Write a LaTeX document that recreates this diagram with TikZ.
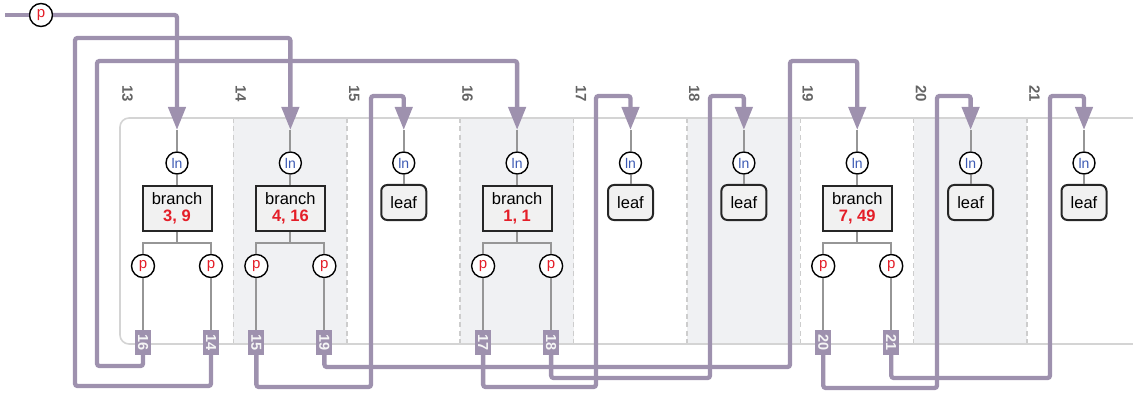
\documentclass[tikz,border=0pt]{standalone}
\usepackage{fontspec}
\setmainfont{Liberation Sans}
\usetikzlibrary{arrows.meta}
\definecolor{wirec}{RGB}{158,145,174}
\definecolor{panelc}{RGB}{212,212,212}
\definecolor{shadec}{RGB}{240,241,243}
\definecolor{dashcol}{RGB}{205,205,205}
\definecolor{thinc}{RGB}{150,150,150}
\definecolor{boxfill}{RGB}{241,241,241}
\definecolor{redc}{RGB}{228,30,40}
\definecolor{bluec}{RGB}{60,90,180}
\definecolor{labc}{RGB}{100,100,100}
\definecolor{tagtext}{RGB}{245,245,245}
\newcommand\fsz[2]{\fontsize{#1}{#2}\selectfont}
\begin{document}
\begin{tikzpicture}[x=1pt,y=-1pt,
  wire/.style={line width=4.3pt, draw=wirec, rounded corners=2.5pt},
  arr/.style={wire, -{Triangle[length=23pt,width=17pt]}},
  thin/.style={draw=thinc, line width=2pt},
  lnc/.style={circle, draw=black, line width=1.4pt, fill=white, minimum size=22pt, inner sep=0pt, text=bluec, font=\fsz{14}{16}},
  pc/.style={circle, draw=black, line width=1.4pt, fill=white, minimum size=23pt, inner sep=0pt, text=redc, font=\fsz{15}{16}},
  branchbox/.style={rectangle, draw=black!85, line width=2pt, fill=boxfill, minimum width=69pt, minimum height=45pt, inner sep=0pt, align=center, font=\fsz{16.5}{18}},
  leafbox/.style={rectangle, rounded corners=6pt, draw=black!85, line width=2pt, fill=boxfill, minimum width=45pt, minimum height=35pt, inner sep=0pt, font=\fsz{16.5}{18}},
  tagbox/.style={rectangle, fill=wirec, minimum width=16pt, minimum height=25pt, inner sep=0pt, text=tagtext, font=\bfseries\fsz{14.5}{16}},
  collab/.style={inner sep=0pt, text=labc, font=\bfseries\fsz{15}{16}},
  panel/.style={draw=panelc, line width=1.6pt, rounded corners=9pt},
  dashl/.style={draw=dashcol, line width=1.5pt, dash pattern=on 5pt off 3.5pt}
]
\useasboundingbox (0,0) rectangle (1133,393);
\clip (0,0) rectangle (1133,393);
% panel
\foreach \c in {1,3,5,7} \fill[shadec] ({120+113.375*\c},118) rectangle ({120+113.375*(\c+1)},344);
\foreach \c in {1,...,8} \draw[dashl] ({120+113.375*\c},118) -- ({120+113.375*\c},344);
\draw[panel] (120,118) rectangle (1170,344);
% columns
\foreach \c/\n in {0/13,1/14,2/15,3/16,4/17,5/18,6/19,7/20,8/21}{
  \node[collab] (lab\n) at ({127.5+113.375*\c},94) {\rotatebox{-90}{\n}};
  \coordinate (t\n) at ({177+113.375*\c},130);
  \node[lnc] (ln\n) at ({177+113.375*\c},163) {ln};
  \draw[thin] (t\n) -- (ln\n);
}
% leaves
\foreach \c/\n in {2/15,4/17,5/18,7/20,8/21}{
  \node[leafbox] (leaf\n) at ({177+113.375*\c},202.5) {leaf};
  \draw[thin] (ln\n) -- (leaf\n);
}
% branches
\foreach \c/\n/\v/\ta/\tb in {0/13/{3, 9}/16/14,1/14/{4, 16}/15/19,3/16/{1, 1}/17/18,6/19/{7, 49}/20/21}{
  \node[branchbox] (b\n) at ({177+113.375*\c},208.5) {branch\\[-1pt]\textcolor{redc}{\bfseries \v}};
  \draw[thin] (ln\n) -- (b\n);
  \node[pc] (pa\n) at ({143+113.375*\c},266) {p};
  \node[pc] (pb\n) at ({211+113.375*\c},266) {p};
  \coordinate (fk\n) at ({177+113.375*\c},243);
  \draw[thin] (b\n.south) -- (fk\n);
  \draw[thin] (pa\n) |- (fk\n) -| (pb\n);
  \node[tagbox] (g\ta) at ({143+113.375*\c},342.5) {\rotatebox{-90}{\ta}};
  \node[tagbox] (g\tb) at ({211+113.375*\c},342.5) {\rotatebox{-90}{\tb}};
  \draw[thin] (pa\n) -- (g\ta);
  \draw[thin] (pb\n) -- (g\tb);
}
% input
\coordinate (in0) at (5,15);
\node[pc] (pin) at (41,15) {p};
\draw[wire] (in0) -- (pin);
\draw[arr] (pin) -| (t13);
% wires
\draw[arr] (g16.south) |- (97,366) -- (97,61) -| (t16);
\draw[arr] (g14.south) |- (75,386) -- (75,38) -| (t14);
\draw[arr] (g15.south) |- (371,387) -- (371,96) -| (t15);
\draw[arr] (g19.south) |- (790,367) -- (790,61) -| (t19);
\draw[arr] (g17.south) |- (596,387) -- (596,96) -| (t17);
\draw[arr] (g18.south) |- (710,378) -- (710,96) -| (t18);
\draw[arr] (g20.south) |- (937,388) -- (937,96) -| (t20);
\draw[arr] (g21.south) |- (1050,378) -- (1050,96) -| (t21);
\end{tikzpicture}
\end{document}
